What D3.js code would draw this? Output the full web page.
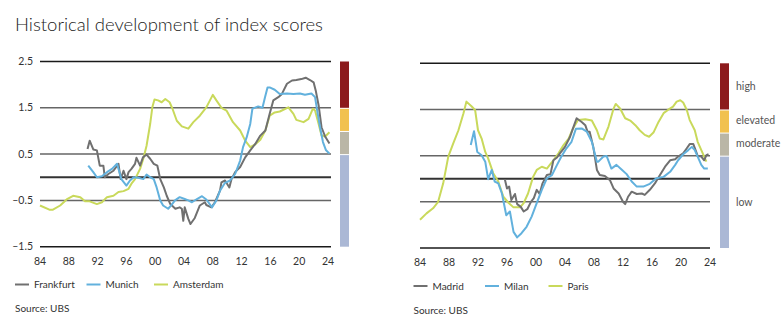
<!DOCTYPE html>
<html><head><meta charset="utf-8">
<script src="https://cdn.jsdelivr.net/npm/d3@7"></script>
<style>
body{margin:0;background:#fff;}
svg{display:block;font-family:Lato,"Open Sans","Noto Sans",sans-serif;}
</style></head><body>
<svg id="c" width="784" height="327"></svg>
<script>
// ---- data ----
const xTickYears = [1984,1988,1992,1996,2000,2004,2008,2012,2016,2020,2024];
const xTickLabels = ["84","88","92","96","00","04","08","12","16","20","24"];
const yTickValues = [2.5,1.5,0.5,-0.5,-1.5];
const yTickLabels = ["2.5","1.5","0.5","\u20130.5","\u20131.5"];
const gridValues = [2.5,1.5,0.5,0,-0.5,-1.5];
const bandNames = ["high","elevated","moderate","low"];
const bandFrom = [2.5,1.5,1.0,0.5];
const bandTo = [1.5,1.0,0.5,-1.5];
const bandColors = ["#8c1a1c","#f1c14f","#bab6a6","#abb8d5"];

const frankfurtYears = [1990.6,1990.9,1991.4,1991.9,1992.3,1992.8,1993.0,1993.5,1994.2,1994.9,1995.2,1995.6,1996.0,1996.3,1996.7,1997.2,1997.4,1997.9,1998.3,1998.8,1999.3,1999.8,2000.3,2000.7,2001.2,2001.6,2002.1,2002.8,2003.4,2003.7,2003.9,2004.1,2004.6,2004.9,2005.5,2006.2,2006.9,2007.1,2007.8,2008.3,2009.0,2009.2,2009.7,2010.3,2010.6,2011.1,2011.8,2012.5,2013.2,2013.9,2014.6,2015.3,2015.9,2016.4,2017.1,2017.6,2018.3,2019.0,2019.6,2020.3,2020.9,2021.5,2022.0,2022.3,2022.7,2023.1,2023.6,2024.2];
const frankfurtValues = [0.61,0.79,0.60,0.58,0.25,0.25,0.00,0.07,0.14,0.29,-0.04,0.14,-0.04,0.11,0.18,0.29,0.42,0.25,0.43,0.49,0.40,0.29,0.25,-0.04,-0.22,-0.40,-0.58,-0.68,-0.65,-0.68,-0.94,-0.65,-0.90,-1.01,-0.88,-0.61,-0.54,-0.60,-0.65,-0.54,-0.29,-0.11,-0.07,-0.22,-0.04,0.11,0.22,0.43,0.58,0.72,0.90,1.01,1.37,1.66,1.73,1.80,2.02,2.09,2.10,2.12,2.15,2.10,2.05,1.87,1.55,1.08,0.88,0.73];

const munichYears = [1990.7,1991.4,1991.9,1992.6,1993.3,1994.0,1994.7,1995.3,1996.0,1996.5,1997.0,1997.65,1998.35,1998.8,1999.3,1999.8,2000.2,2000.7,2001.1,2001.8,2002.3,2002.75,2003.4,2004.1,2004.6,2005.1,2005.8,2006.5,2007.1,2007.9,2008.5,2009.0,2009.7,2010.4,2011.1,2011.8,2012.2,2012.7,2013.2,2013.5,2014.3,2014.9,2015.25,2015.6,2015.9,2016.6,2017.3,2018.3,2019.2,2020.1,2020.8,2021.7,2022.2,2022.5,2022.9,2023.3,2023.7,2024.2];
const munichValues = [0.25,0.11,0.00,0.02,0.11,0.18,0.29,-0.04,-0.18,-0.07,0.00,-0.01,-0.04,0.06,0.00,-0.04,-0.22,-0.50,-0.61,-0.68,-0.59,-0.50,-0.43,-0.47,-0.50,-0.54,-0.47,-0.41,-0.48,-0.65,-0.50,-0.29,-0.12,-0.07,0.07,0.36,0.65,0.86,1.15,1.48,1.53,1.50,1.73,1.94,1.94,1.89,1.80,1.81,1.80,1.81,1.78,1.81,1.73,1.44,1.08,0.76,0.59,0.51];

const amsterdamYears = [1984.0,1985.3,1985.8,1986.8,1987.7,1988.6,1989.6,1990.25,1990.9,1991.9,1992.6,1993.3,1994.2,1994.9,1995.6,1996.3,1996.7,1997.2,1997.9,1998.4,1998.8,1999.3,1999.6,1999.9,2000.4,2000.9,2001.4,2002.0,2002.4,2003.0,2003.7,2004.6,2005.3,2006.2,2007.1,2008.0,2008.5,2009.2,2009.9,2010.8,2011.8,2012.5,2013.2,2013.9,2014.6,2015.3,2015.9,2016.6,2017.3,2018.5,2019.2,2019.6,2020.6,2021.3,2021.9,2022.2,2022.7,2023.1,2023.6,2024.2];
const amsterdamValues = [-0.61,-0.70,-0.70,-0.61,-0.48,-0.40,-0.43,-0.52,-0.52,-0.58,-0.54,-0.43,-0.40,-0.32,-0.30,-0.25,-0.14,-0.04,0.18,0.43,0.68,1.15,1.51,1.68,1.66,1.62,1.69,1.62,1.48,1.22,1.10,1.05,1.19,1.33,1.51,1.78,1.66,1.50,1.44,1.19,1.01,0.79,0.65,0.71,0.81,1.01,1.33,1.40,1.42,1.51,1.37,1.24,1.19,1.26,1.48,1.44,1.15,0.90,0.88,0.97];

const madridYears = [1995.7,1996.0,1996.3,1996.6,1997.1,1997.4,1997.9,1998.3,1998.8,1999.3,1999.7,2000.1,2000.5,2000.9,2001.5,2002.0,2002.4,2002.9,2003.3,2004.0,2004.7,2005.1,2005.6,2006.3,2006.8,2007.1,2007.4,2007.9,2008.4,2008.8,2009.5,2010.2,2010.7,2011.4,2012.0,2012.3,2012.7,2013.2,2013.9,2014.6,2015.0,2015.7,2016.4,2017.1,2017.8,2018.5,2019.2,2019.6,2020.3,2020.8,2021.2,2021.7,2022.1,2022.3,2022.8,2023.2,2023.5,2023.8];
const madridValues = [-0.01,-0.21,-0.17,-0.46,-0.33,-0.55,-0.61,-0.71,-0.66,-0.50,-0.42,-0.24,-0.33,-0.10,0.08,0.10,0.40,0.46,0.55,0.69,0.91,1.09,1.31,1.23,1.16,1.02,1.02,0.69,0.19,0.08,0.06,-0.03,-0.21,-0.32,-0.50,-0.55,-0.39,-0.28,-0.33,-0.32,-0.35,-0.24,-0.10,0.08,0.26,0.40,0.42,0.48,0.55,0.66,0.75,0.75,0.58,0.49,0.48,0.40,0.51,0.53];

const milanYears = [1991.0,1991.45,1991.9,1992.5,1993.0,1993.4,1993.9,1994.3,1994.8,1995.3,1995.9,1996.4,1996.9,1997.4,1998.0,1998.7,1999.4,2000.1,2000.8,2001.5,2002.2,2002.9,2003.5,2004.2,2004.9,2005.5,2006.3,2007.0,2007.7,2008.4,2008.6,2009.3,2009.75,2010.4,2011.1,2011.8,2012.5,2013.2,2013.9,2014.8,2015.7,2016.6,2017.6,2018.5,2019.2,2019.6,2020.3,2021.0,2021.5,2021.9,2022.3,2022.8,2023.2,2023.7];
const milanValues = [0.73,1.03,0.58,0.51,0.37,-0.01,0.19,-0.06,-0.10,-0.32,-0.79,-0.71,-1.15,-1.27,-1.18,-1.04,-0.82,-0.53,-0.24,0.01,0.08,0.30,0.48,0.66,0.80,1.08,1.09,1.02,0.80,0.37,0.37,0.48,0.49,0.22,0.30,0.20,0.10,-0.06,-0.17,-0.17,-0.11,0.01,0.04,0.15,0.30,0.40,0.53,0.62,0.69,0.62,0.48,0.30,0.22,0.22];

const parisYears = [1984.0,1984.9,1985.8,1986.5,1987.2,1987.9,1988.6,1989.3,1990.0,1990.4,1991.1,1991.6,1992.0,1992.5,1993.0,1993.4,1994.1,1994.8,1995.5,1996.2,1996.9,1997.8,1998.3,1998.9,1999.6,2000.1,2000.8,2001.5,2001.9,2002.4,2003.1,2003.8,2004.5,2005.1,2005.8,2006.8,2007.7,2008.4,2008.8,2009.3,2010.0,2010.7,2011.0,2011.6,2012.3,2013.0,2013.7,2014.3,2015.0,2015.6,2016.2,2016.9,2017.6,2018.2,2018.9,2019.4,2019.9,2020.3,2020.8,2021.2,2021.9,2022.3,2022.8,2023.2,2023.5];
const parisValues = [-0.89,-0.75,-0.64,-0.50,-0.10,0.48,0.77,1.05,1.42,1.67,1.57,1.49,1.05,0.87,0.58,0.44,0.12,-0.06,-0.39,-0.52,-0.62,-0.62,-0.53,-0.32,0.04,0.19,0.26,0.22,0.30,0.40,0.55,0.73,0.87,1.09,1.27,1.29,1.26,1.05,0.87,0.85,1.13,1.52,1.62,1.52,1.31,1.26,1.16,1.05,0.95,0.91,1.00,1.23,1.42,1.49,1.56,1.67,1.70,1.65,1.49,1.27,1.05,0.80,0.62,0.48,0.37];

const colors = {grey:"#707070", blue:"#62b1dd", green:"#c9d95b"};

const svg = d3.select("#c");

svg.append("text").attr("x",15).attr("y",31)
  .attr("font-size",18.5).attr("font-weight",300).attr("fill","#222")
  .text("Historical development of index scores");

function panel(cfg){
  const x = d3.scaleLinear().domain([1984,2024]).range([cfg.x0, cfg.x1]);
  const y = d3.scaleLinear().domain([-1.5,2.5]).range([cfg.yb, cfg.yt]);
  const g = svg.append("g");
  g.selectAll("line.grid").data(gridValues).join("line")
    .attr("x1", cfg.x0).attr("x2", cfg.gx1)
    .attr("y1", d=>y(d)).attr("y2", d=>y(d))
    .attr("stroke", d => (d===2.5||d===-1.5) ? "#1a1a1a" : (d===0 ? "#333" : "#666"))
    .attr("stroke-width", d => d===0 ? 2 : 1.5);
  if (cfg.yLabels){
    g.selectAll("text.yl").data(yTickValues).join("text")
      .attr("x", cfg.x0-7).attr("y", d=>y(d)).attr("dy","0.35em")
      .attr("text-anchor","end").attr("font-size",10.5).attr("fill","#333")
      .text((d,i)=>yTickLabels[i]);
  }
  g.selectAll("text.xl").data(xTickYears).join("text")
    .attr("x", d=>x(d)).attr("y", cfg.yb+18)
    .attr("text-anchor","middle").attr("font-size",10.5).attr("fill","#333")
    .text((d,i)=>xTickLabels[i]);
  g.selectAll("rect.band").data(bandNames).join("rect")
    .attr("x", cfg.bx).attr("width", 9)
    .attr("y", (d,i)=> y(bandFrom[i]) + (i>0?1:0))
    .attr("height", (d,i)=> y(bandTo[i]) - y(bandFrom[i]) - (i>0?1:0))
    .attr("fill", (d,i)=>bandColors[i]);
  if (cfg.bandLabels){
    g.selectAll("text.bl").data(bandNames).join("text")
      .attr("x", cfg.bx+16)
      .attr("y", (d,i)=> i===3 ? y(-0.5) : i===0 ? y(2.0) : (y(bandFrom[i])+y(bandTo[i]))/2 - 1)
      .attr("dy","0.35em").attr("font-size",10.5).attr("fill","#555")
      .text(d=>d);
  }
  const line = d3.line().x(d=>x(d[0])).y(d=>y(d[1]));
  cfg.series.forEach(s=>{
    g.append("path").datum(d3.zip(s.years, s.values))
      .attr("fill","none").attr("stroke", s.color).attr("stroke-width",2)
      .attr("stroke-linejoin","round").attr("d", line);
  });
  const lg = g.append("g");
  cfg.series.slice().sort((a,b)=>a.order-b.order).forEach((s,i)=>{
    const lx = cfg.legendX[i];
    lg.append("line").attr("x1",lx).attr("x2",lx+14)
      .attr("y1",cfg.legendY).attr("y2",cfg.legendY)
      .attr("stroke", s.color).attr("stroke-width",2);
    lg.append("text").attr("x",lx+19).attr("y",cfg.legendY).attr("dy","0.35em")
      .attr("font-size",10).attr("fill","#333").text(s.name);
  });
  g.append("text").attr("x",cfg.legendX[0]).attr("y",cfg.legendY+24).attr("dy","0.35em")
    .attr("font-size",10).attr("fill","#333").text("Source: UBS");
}

panel({x0:40, x1:328, gx1:331, yt:61.5, yb:246.7, yLabels:true, bx:340, bandLabels:false,
  legendX:[15,86.5,154], legendY:284.5,
  series:[
    {name:"Amsterdam", years:amsterdamYears, values:amsterdamValues, color:colors.green, order:2},
    {name:"Frankfurt", years:frankfurtYears, values:frankfurtValues, color:colors.grey, order:0},
    {name:"Munich", years:munichYears, values:munichValues, color:colors.blue, order:1}
  ]});

panel({x0:420, x1:710, gx1:710, yt:63.3, yb:248, yLabels:false, bx:720, bandLabels:true,
  legendX:[413.5,485,548.5], legendY:286,
  series:[
    {name:"Paris", years:parisYears, values:parisValues, color:colors.green, order:2},
    {name:"Madrid", years:madridYears, values:madridValues, color:colors.grey, order:0},
    {name:"Milan", years:milanYears, values:milanValues, color:colors.blue, order:1}
  ]});
</script>
</body></html>
